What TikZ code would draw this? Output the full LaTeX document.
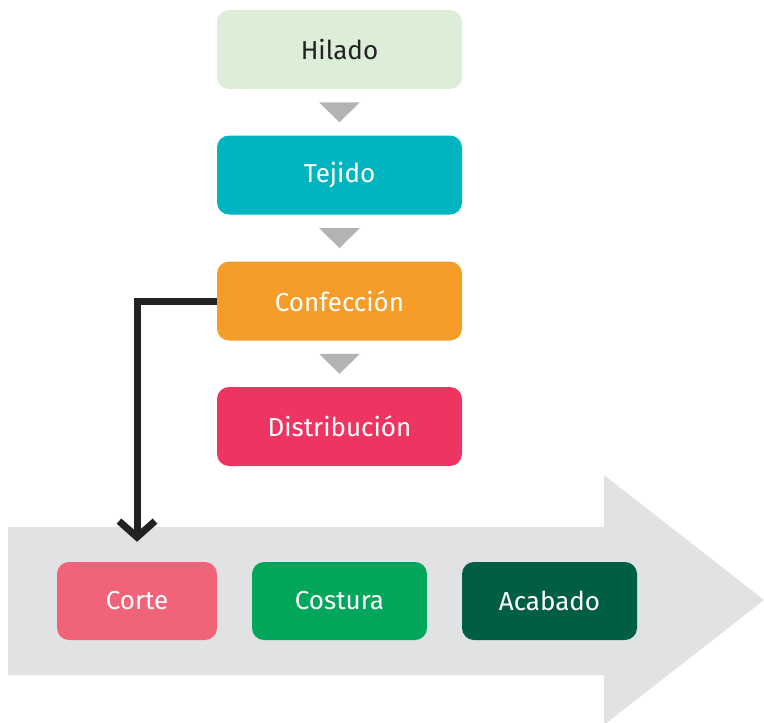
\documentclass[tikz,border=0pt]{standalone}
\usepackage{fontspec}
\setmainfont{Fira Sans}
\usetikzlibrary{arrows.meta,calc}
\definecolor{cHil}{HTML}{DCEDD8}
\definecolor{cTej}{HTML}{00B4C0}
\definecolor{cCon}{HTML}{F69C29}
\definecolor{cDis}{HTML}{EE3562}
\definecolor{cCor}{HTML}{F06379}
\definecolor{cCos}{HTML}{00A659}
\definecolor{cAca}{HTML}{005F43}
\definecolor{cTri}{HTML}{B3B3B2}
\definecolor{cBig}{HTML}{E1E2E4}
\definecolor{cInk}{HTML}{222222}
\begin{document}
\begin{tikzpicture}[x=1pt,y=-1pt,
  stagebox/.style={rectangle,rounded corners=12pt,minimum width=245pt,minimum height=79pt,
    inner sep=0pt,text=white,font=\fontsize{26}{30}\selectfont},
  subbox/.style={rectangle,rounded corners=12pt,minimum height=78pt,
    inner sep=0pt,text=white,font=\fontsize{26}{30}\selectfont},
  tri/.style={fill=cTri},
  link/.style={draw=cInk,line width=7pt,line join=miter,
    -{Straight Barb[length=16pt,width=36pt,line join=miter]}}]
\useasboundingbox (0,0) rectangle (764,723);
% big arrow
\fill[cBig] (8,527) -- (604,527) -- (604,475) -- (764,600) -- (604,725) -- (604,675) -- (8,675) -- cycle;
% stage boxes
\node[stagebox,fill=cHil,text=cInk] (hil) at (339.5,49.5) {Hilado};
\node[stagebox,fill=cTej] (tej) at (339.5,175) {Tejido};
\node[stagebox,fill=cCon] (con) at (339.5,301) {Confección};
\node[stagebox,fill=cDis] (dis) at (339.5,426.5) {Distribución};
% sub boxes
\node[subbox,fill=cCor,minimum width=160pt] (cor) at (137,601) {Corte};
\node[subbox,fill=cCos,minimum width=175pt] (cos) at (339.5,601) {Costura};
\node[subbox,fill=cAca,minimum width=175pt] (aca) at (549.5,601) {Acabado};
% triangles
\foreach \a/\b in {hil/tej,tej/con,con/dis}{
  \fill[tri] ($(\a.south)!0.5!(\b.north)+(-20.5,-10)$) -- ++(41,0) -- ($(\a.south)!0.5!(\b.north)+(0,10)$) -- cycle;
}
% connector
\draw[link,shorten >=20pt] (con.west) -| (cor.north);
\end{tikzpicture}
\end{document}
